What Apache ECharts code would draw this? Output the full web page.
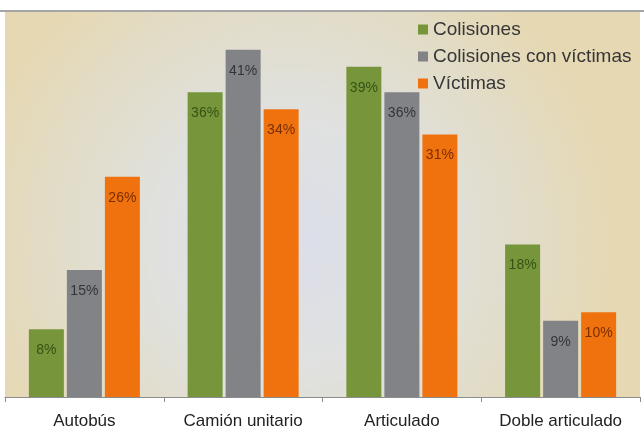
<!DOCTYPE html>
<html><head><meta charset="utf-8">
<script src="https://cdn.jsdelivr.net/npm/echarts@6/dist/echarts.min.js"></script>
<style>html,body{margin:0;padding:0;background:#fff}#c{width:644px;height:436px}</style>
</head><body><div id="c"></div>
<script>
var categories = ['Autobús', 'Camión unitario', 'Articulado', 'Doble articulado'];
var colisiones = [8, 36, 39, 18];
var colisionesVictimas = [15, 41, 36, 9];
var victimas = [26, 34, 31, 10];
var seriesNames = ['Colisiones', 'Colisiones con víctimas', 'Víctimas'];

var chart = echarts.init(document.getElementById('c'), null, {renderer: 'canvas'});
var font = '"Liberation Sans", Arial, sans-serif';
function mk(name, data, color, lblColor) {
  return {
    name: name, type: 'bar', data: data, barWidth: 35, barGap: '8.6%',
    itemStyle: {color: color},
    label: {show: true, position: 'insideTop', distance: 14, formatter: '{c}%',
      color: lblColor, fontSize: 14, fontFamily: font}
  };
}
chart.setOption({
  animation: false,
  graphic: [
    {type: 'rect', z: -10, shape: {x: 5, y: 12, width: 635, height: 385},
     style: {fill: new echarts.graphic.RadialGradient(0.45, 0.6, 0.85, [
       {offset: 0, color: '#dcdeea'}, {offset: 0.4, color: '#e0e1df'},
       {offset: 0.75, color: '#e2dcc6'}, {offset: 1, color: '#e6d8b2'}])}},
    {type: 'rect', z: -9, shape: {x: 0, y: 10, width: 644, height: 2}, style: {fill: '#a6a6a6'}}
  ],
  legend: {
    orient: 'vertical', left: 413, top: 15, itemWidth: 10, itemHeight: 10, itemGap: 8,
    icon: 'rect',
    textStyle: {fontSize: 19, fontFamily: font, color: '#363636', lineHeight: 18},
    data: seriesNames
  },
  grid: {left: 5, right: 4, top: 16, bottom: 39},
  xAxis: {
    type: 'category', data: categories,
    axisLine: {lineStyle: {color: '#8c8c8c'}},
    axisTick: {show: true, length: 5, lineStyle: {color: '#8c8c8c'}},
    axisLabel: {interval: 0, fontSize: 17, fontFamily: font, color: '#222', margin: 16}
  },
  yAxis: {type: 'value', min: 0, max: 45, show: false, splitLine: {show: false}},
  series: [
    mk(seriesNames[0], colisiones, '#77963b', '#355214'),
    mk(seriesNames[1], colisionesVictimas, '#828387', '#333438'),
    mk(seriesNames[2], victimas, '#f0720f', '#7a2e00')
  ]
});
</script></body></html>
